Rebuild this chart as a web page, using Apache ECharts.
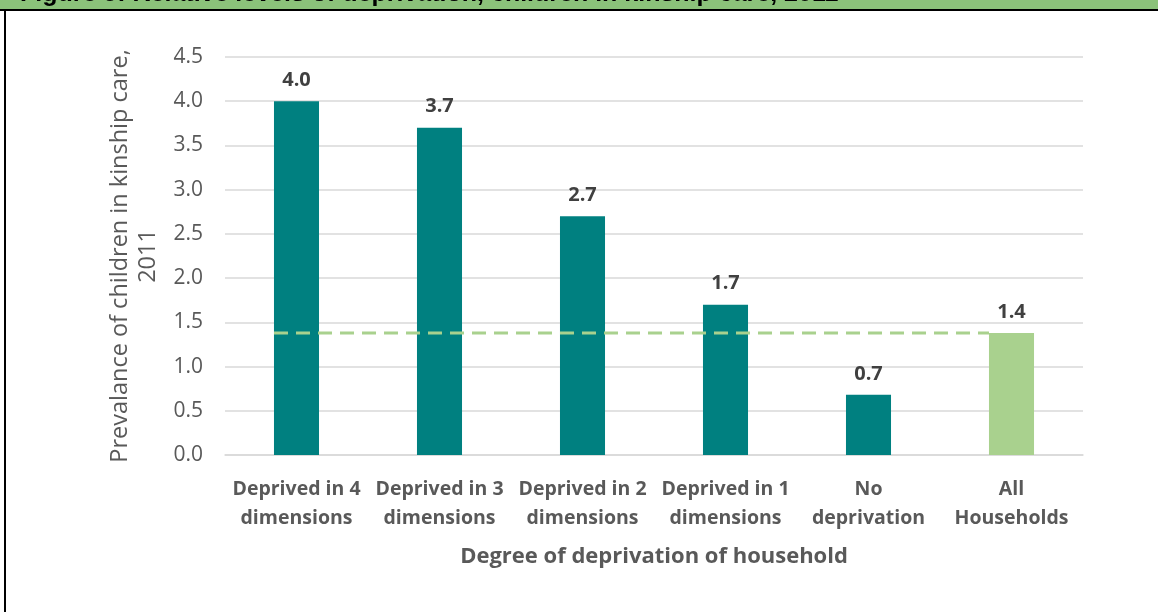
<!DOCTYPE html>
<html>
<head>
<meta charset="utf-8">
<script src="https://cdn.jsdelivr.net/npm/echarts@6/dist/echarts.min.js"></script>
<style>
  html, body { margin: 0; padding: 0; background: #fff; }
  #chart { width: 1158px; height: 612px; }
</style>
</head>
<body>
<div id="chart"></div>
<script>
// categories and values
var categories = ['Deprived in 4\ndimensions', 'Deprived in 3\ndimensions', 'Deprived in 2\ndimensions',
  'Deprived in 1\ndimensions', 'No\ndeprivation', 'All\nHouseholds'];
var prevalence = [4.0, 3.7, 2.7, 1.7, 0.68, 1.38];
var yTicks = [0, 0.5, 1, 1.5, 2, 2.5, 3, 3.5, 4, 4.5];

// reference level = "All Households" value, drawn as dashed line across the chart
var avgLevel = prevalence[prevalence.length - 1];

var teal = '#008080';
var lightGreen = '#a9d18e';
var font = '"Open Sans", sans-serif';

var barWidthFrac = 0.315; // bar width as share of category band
var half = barWidthFrac / 2;

var chart = echarts.init(document.getElementById('chart'));

var option = {
  animation: false,
  textStyle: { fontFamily: font },
  graphic: [
    // green title band, title clipped at top like in the source
    { type: 'rect', left: 0, top: 0, shape: { width: 1158, height: 10 }, style: { fill: '#8bc27a' }, z: 1 },
    { type: 'rect', left: 0, top: 9, shape: { width: 1158, height: 2 }, style: { fill: '#000' }, z: 2 },
    { type: 'rect', left: 4, top: 9, shape: { width: 2, height: 603 }, style: { fill: '#000' }, z: 2 },
    {
      type: 'text', left: 20, top: -18, z: 3,
      style: {
        text: 'Figure 5: Relative levels of deprivation, children in kinship care, 2011',
        font: 'bold 25px "Liberation Sans Narrow", "Liberation Sans"',
        fill: '#000'
      }
    }
  ],
  grid: { left: 225, right: 75, top: 57, bottom: 157 },
  xAxis: [
    {
      type: 'category',
      data: categories,
      axisLine: { lineStyle: { color: '#d9d9d9', width: 1.5 } },
      axisTick: { show: false },
      axisLabel: {
        interval: 0, margin: 20, color: '#595959', fontSize: 19.5, fontWeight: 'bold',
        lineHeight: 29, fontFamily: font
      },
      name: 'Degree of deprivation of household',
      nameLocation: 'middle',
      nameGap: 91,
      nameTextStyle: { color: '#595959', fontSize: 22, fontWeight: 'bold', fontFamily: font }
    },
    {
      type: 'value', min: -0.5, max: categories.length - 0.5, show: false
    }
  ],
  yAxis: {
    type: 'value',
    min: 0, max: yTicks[yTicks.length - 1], interval: 0.5,
    axisLine: { show: false },
    axisTick: { show: false },
    splitLine: { lineStyle: { color: '#d9d9d9', width: 1.5 } },
    axisLabel: {
      color: '#595959', fontSize: 21, margin: 22, fontFamily: font,
      formatter: function (v) { return v.toFixed(1); }
    },
    name: 'Prevalance of children in kinship care,\n2011',
    nameLocation: 'middle',
    nameRotate: 90,
    nameGap: 62,
    nameTextStyle: { color: '#595959', fontSize: 23.5, lineHeight: 28, align: 'center', fontFamily: font }
  },
  series: [
    {
      type: 'bar',
      data: prevalence.map(function (v, i) {
        return { value: v, itemStyle: { color: i === prevalence.length - 1 ? lightGreen : teal } };
      }),
      barWidth: (barWidthFrac * 100) + '%',
      z: 2,
      label: {
        show: true, position: 'top', distance: 11,
        color: '#404040', fontSize: 20, fontWeight: 'bold', fontFamily: font,
        formatter: function (p) { return p.value.toFixed(1); }
      }
    },
    {
      type: 'line',
      xAxisIndex: 1,
      data: [[0 - half, avgLevel], [prevalence.length - 1 - half, avgLevel]],
      symbol: 'none',
      z: 3,
      lineStyle: { color: lightGreen, width: 3, type: [14, 8] }
    }
  ]
};

chart.setOption(option);
</script>
</body>
</html>
